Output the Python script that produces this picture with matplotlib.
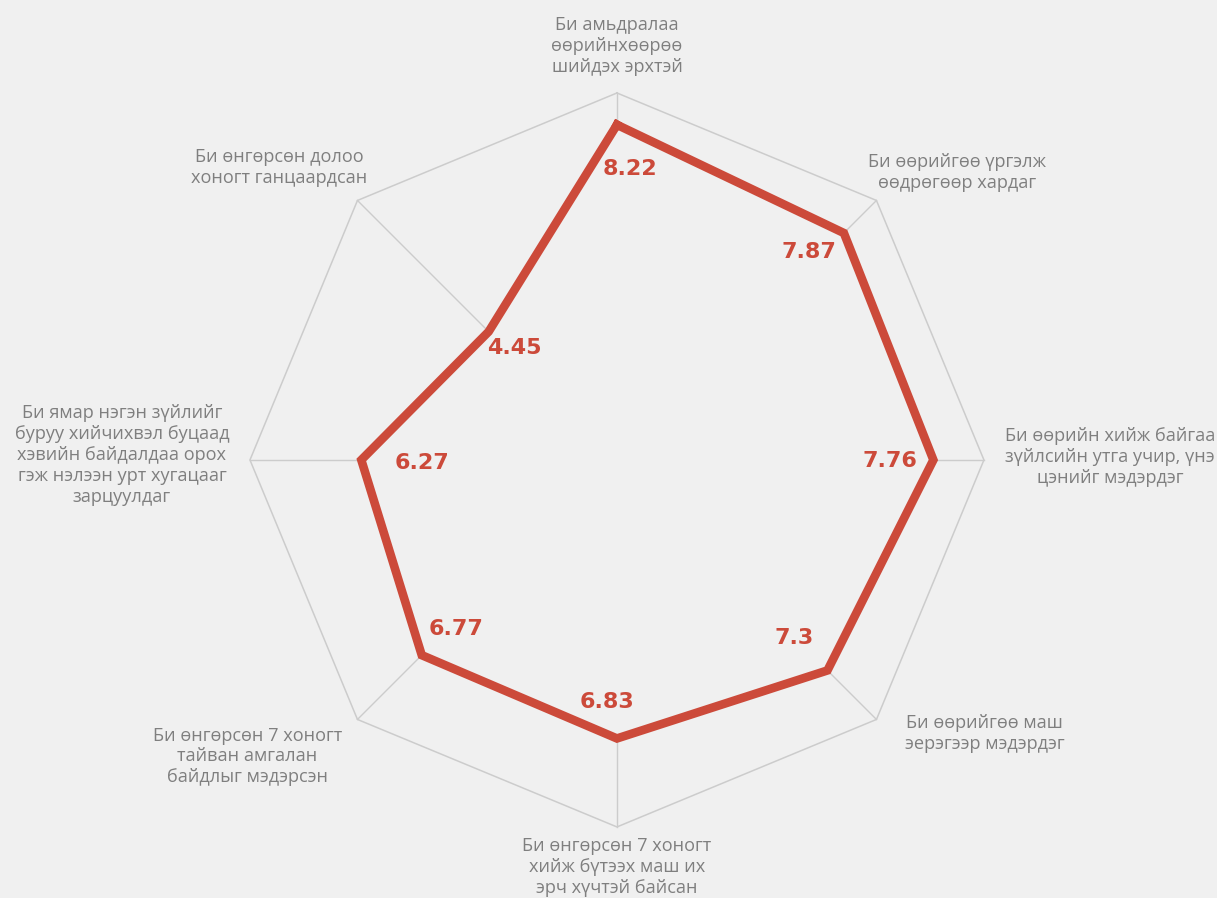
import numpy as np
import matplotlib.pyplot as plt

# -------- Data --------
categories = [
    "Би амьдралаа\nөөрийнхөөрөө\nшийдэх эрхтэй",
    "Би өөрийгөө үргэлж\nөөдрөгөөр хардаг",
    "Би өөрийн хийж байгаа\nзүйлсийн утга учир, үнэ\nцэнийг мэдэрдэг",
    "Би өөрийгөө маш\nэерэгээр мэдэрдэг",
    "Би өнгөрсөн 7 хоногт\nхийж бүтээх маш их\nэрч хүчтэй байсан",
    "Би өнгөрсөн 7 хоногт\nтайван амгалан\nбайдлыг мэдэрсэн",
    "Би ямар нэгэн зүйлийг\nбуруу хийчихвэл буцаад\nхэвийн байдалдаа орох\nгэж нэлээн урт хугацааг\nзарцуулдаг",
    "Би өнгөрсөн долоо\nхоногт ганцаардсан",
]
values = [8.22, 7.87, 7.76, 7.3, 6.83, 6.77, 6.27, 4.45]
r_max = 9

# label offsets (pixels) from the points / outer vertices
value_offsets = [(13, -44), (-35, -19), (-43, -1), (-33, 32),
                 (-10, 36), (34, 26), (61, -3), (26, -16)]
cat_offsets = [(0, 47), (81, 28), (126, 3), (108, -14),
               (0, -40), (-110, -37), (-128, 5), (-78, 33)]

bg = "#f0f0f0"
grid_c = "#cccccc"
red = "#cc4a3a"
text_c = "#7f7f7f"

n = len(values)
theta = np.linspace(0, 2 * np.pi, n, endpoint=False)
theta_c = np.append(theta, theta[0])
vals_c = np.append(values, values[0])

fig = plt.figure(figsize=(12.17, 8.98), dpi=100, facecolor=bg)
ax = fig.add_axes([0.2054, 0.0791, 0.6031, 0.8174], projection="polar")
ax.set_theta_zero_location("N")
ax.set_theta_direction(-1)
ax.set_ylim(0, r_max)
ax.set_axis_off()

# outer octagon and spokes
ax.plot(theta_c, [r_max] * (n + 1), color=grid_c, lw=1.1, clip_on=False, zorder=1)
for t in theta:
    ax.plot([t, t], [0, r_max], color=grid_c, lw=1.0, clip_on=False, zorder=1)

# data polygon hides spokes inside
ax.fill(theta_c, vals_c, color=bg, zorder=2)
ax.plot(theta_c, vals_c, color=red, lw=6.2, solid_joinstyle="miter", zorder=3)

for t, v, off in zip(theta, values, value_offsets):
    ax.annotate(f"{v:g}", xy=(t, v), xytext=off, textcoords="offset pixels",
                ha="center", va="center", fontsize=16, fontweight="bold",
                family="DejaVu Sans", color=red, zorder=4)

for t, lab, off in zip(theta, categories, cat_offsets):
    ax.annotate(lab, xy=(t, r_max), xytext=off, textcoords="offset pixels",
                ha="center", va="center", multialignment="center",
                fontsize=13.1, family="Open Sans", color=text_c,
                linespacing=1.2, annotation_clip=False)

fig.savefig("out.png", dpi=100, facecolor=bg)
